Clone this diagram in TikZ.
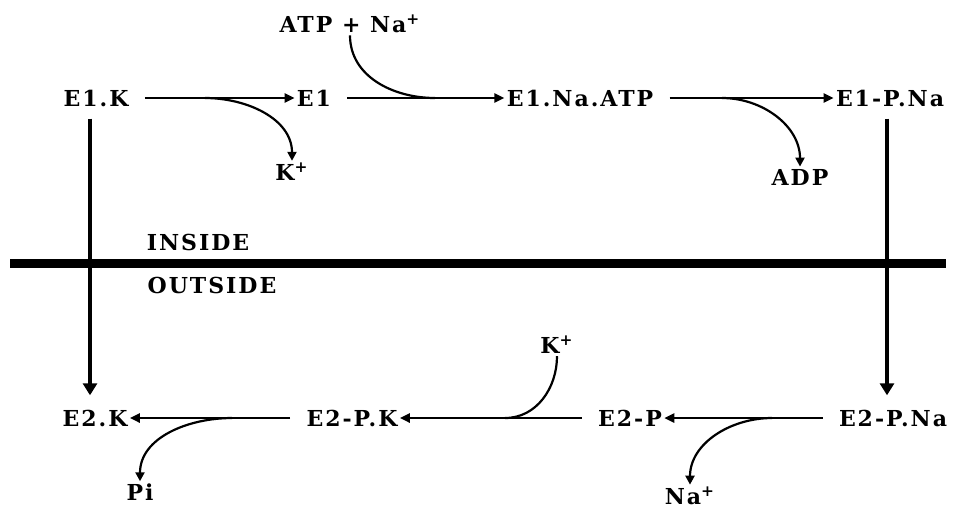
\documentclass[tikz,border=0pt]{standalone}
\usepackage{fontspec}
\setmainfont{DejaVu Serif}
\newfontfamily\pumpfont[LetterSpace=9]{DejaVu Serif}
\usetikzlibrary{arrows.meta,calc}
\tikzset{
  species/.style={inner sep=1pt, font=\pumpfont\fontsize{11}{13}\selectfont\bfseries},
  ion/.style    ={species},
  side/.style   ={species},
  rxn/.style    ={-{Triangle[length=5pt,width=4.5pt]}, line width=1.2pt, shorten <=7pt},
  branch/.style ={-{Triangle[length=4.5pt,width=4.5pt]}, line width=1.1pt},
  merge/.style  ={line width=1.1pt},
  flip/.style   ={-{Triangle[length=6pt,width=7pt]}, line width=2pt,
                  shorten <=5pt, shorten >=6pt},
  membrane/.style={line width=4.5pt},
}

\begin{document}
\begin{tikzpicture}[x=0.5pt, y=-0.5pt]
  \useasboundingbox (0,0) rectangle (957,511);
  % inside cycle
  \node[species] (e1k)    at (96,98)  {E1.K};
  \node[species] (e1)     at (314,98) {E1};
  \node[species] (e1na)   at (580,98) {E1.Na.ATP};
  \node[species] (e1pna)  at (890,98) {E1-P.Na};
  \node[ion]     (atpna)  at (350,24) {ATP + Na\textsuperscript{+}};
  \node[ion]     (kin)    at (292,172) {K\textsuperscript{+}};
  \node[ion]     (adp)    at (800,177) {ADP};
  % outside cycle
  \node[species] (e2k)    at (95,418)  {E2.K};
  \node[species] (e2pk)   at (352,418) {E2-P.K};
  \node[species] (e2p)    at (630,418) {E2-P};
  \node[species] (e2pna)  at (893,418) {E2-P.Na};
  \node[ion]     (kout)   at (557,345) {K\textsuperscript{+}};
  \node[ion]     (pi)     at (140,492) {Pi};
  \node[ion]     (naout)  at (690,496) {Na\textsuperscript{+}};
  % membrane
  \coordinate (mL) at (10,263);
  \coordinate (mR) at (946,263);
  \draw[membrane] (mL) -- (mR);
  \node[side] (inside)  at (198,242) {INSIDE};
  \node[side] (outside) at (212,285) {OUTSIDE};

  % reactions
  \draw[rxn] (e1k) -- (e1);
  \draw[rxn] (e1) -- (e1na);
  \draw[rxn] (e1na) -- (e1pna);
  \draw[rxn] (e2pna) -- (e2p);
  \draw[rxn] (e2p) -- (e2pk);
  \draw[rxn] (e2pk) -- (e2k);
  \draw[flip] (e1k.south -| 90,0) -- (e2k.north -| 90,0);
  \draw[flip] (e1pna.south -| 887,0) -- (e2pna.north -| 887,0);

  % side branches
  \coordinate (b1) at (205,98);
  \coordinate (j1) at (435,98);
  \coordinate (b2) at (722,98);
  \coordinate (b3) at (772,418);
  \coordinate (j2) at (505,418);
  \coordinate (b4) at (232,418);
  \draw[branch] (b1) to[out=0,in=90] (kin.north);
  \draw[merge]  (atpna.south) to[out=-90,in=180] (j1);
  \draw[branch] (b2) to[out=0,in=90] (adp.north);
  \draw[branch] (b3) to[out=180,in=90] (naout.north);
  \draw[merge]  (kout.south) to[out=-90,in=0] (j2);
  \draw[branch] (b4) to[out=180,in=90] (pi.north);
\end{tikzpicture}
\end{document}
